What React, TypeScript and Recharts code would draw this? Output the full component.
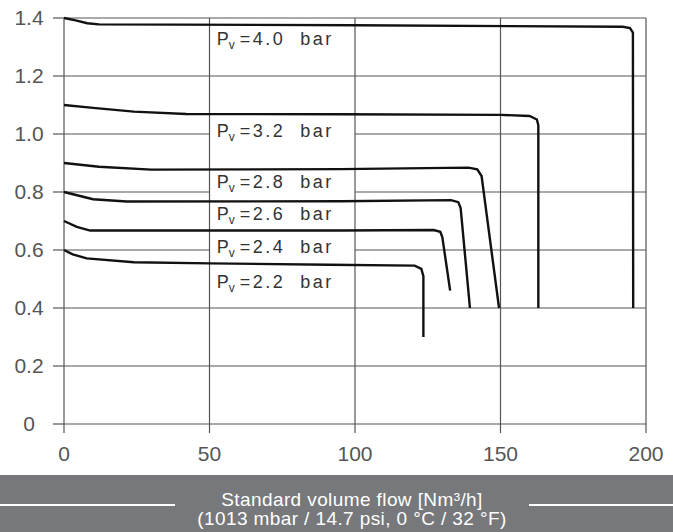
import React from 'react';
import { LineChart, Line, XAxis, YAxis, CartesianGrid, ReferenceLine, ReferenceDot } from 'recharts';

// axis ticks
const flowTicks = [0, 50, 100, 150, 200];
const pressureTicks = [0, 0.2, 0.4, 0.6, 0.8, 1.0, 1.2, 1.4];

// curves, one per inlet pressure Pv
const pv40 = [
  { x: 0, y: 1.4 }, { x: 4, y: 1.392 }, { x: 8, y: 1.382 }, { x: 12, y: 1.378 },
  { x: 100, y: 1.375 }, { x: 192, y: 1.37 }, { x: 194.5, y: 1.365 }, { x: 195.5, y: 1.35 },
  { x: 195.6, y: 0.4 },
];
const pv32 = [
  { x: 0, y: 1.1 }, { x: 10, y: 1.09 }, { x: 24, y: 1.077 }, { x: 42, y: 1.069 },
  { x: 95, y: 1.068 }, { x: 150, y: 1.066 }, { x: 160, y: 1.062 }, { x: 162.5, y: 1.05 },
  { x: 163, y: 1.03 }, { x: 163, y: 0.4 },
];
const pv28 = [
  { x: 0, y: 0.9 }, { x: 12, y: 0.887 }, { x: 30, y: 0.877 }, { x: 95, y: 0.879 },
  { x: 139, y: 0.884 }, { x: 142, y: 0.878 }, { x: 143.5, y: 0.855 }, { x: 149.5, y: 0.4 },
];
const pv26 = [
  { x: 0, y: 0.8 }, { x: 10, y: 0.775 }, { x: 21.5, y: 0.767 }, { x: 95, y: 0.768 },
  { x: 133, y: 0.772 }, { x: 135.5, y: 0.765 }, { x: 136.3, y: 0.745 }, { x: 139.5, y: 0.4 },
];
const pv24 = [
  { x: 0, y: 0.7 }, { x: 4.4, y: 0.68 }, { x: 9, y: 0.667 }, { x: 95, y: 0.667 },
  { x: 127, y: 0.669 }, { x: 129.3, y: 0.663 }, { x: 130, y: 0.645 }, { x: 132.7, y: 0.46 },
];
const pv22 = [
  { x: 0, y: 0.6 }, { x: 3, y: 0.585 }, { x: 7.8, y: 0.571 }, { x: 24, y: 0.558 },
  { x: 50, y: 0.554 }, { x: 91, y: 0.549 }, { x: 120.5, y: 0.546 }, { x: 122.8, y: 0.535 },
  { x: 123.5, y: 0.51 }, { x: 123.5, y: 0.3 },
];

const curves = [
  { pv: '4.0', points: pv40 },
  { pv: '3.2', points: pv32 },
  { pv: '2.8', points: pv28 },
  { pv: '2.6', points: pv26 },
  { pv: '2.4', points: pv24 },
  { pv: '2.2', points: pv22 },
];

// where the Pv labels sit (data coords, text baseline)
const labelX = 52.5;
const labelY = [1.307, 0.99, 0.814, 0.704, 0.59, 0.468];

// gridlines that are broken by the label column
const fullGridY = [0, 0.2, 0.4, 1.2, 1.4];
const splitGridY = [0.6, 0.8, 1.0];

const GRID = '#555';
const TXT = '#555';
const FONT = '"Liberation Sans", Arial, sans-serif';

const YTick = (props: any) => {
  const v = props.payload.value;
  return (
    <text x={29} y={props.y} dy="0.355em" textAnchor="middle" fontSize={21} fill={TXT} fontFamily={FONT}>
      {v === 0 ? '0' : v.toFixed(1)}
    </text>
  );
};

const PvLabel = ({ cx, cy, pv }: any) => (
  <text x={cx} y={cy} fontSize={18} fill="#333" fontFamily={FONT}>
    P
    <tspan fontSize={12} dy={4}>v</tspan>
    <tspan dy={-4} dx={5} letterSpacing={2.5}>{'=' + pv + '\u00a0 bar'}</tspan>
  </text>
);

export default function App() {
  return (
    <div style={{ position: 'relative', width: 673, height: 532, background: '#fff', overflow: 'hidden' }}>
      <style>{'body{margin:0}'}</style>
      <LineChart width={673} height={475} margin={{ top: 18, right: 27, bottom: 0, left: 0 }}>
        <CartesianGrid horizontal={false} stroke={GRID} strokeWidth={1.2} />
        <XAxis
          type="number"
          dataKey="x"
          domain={[0, 200]}
          ticks={flowTicks}
          height={51}
          tickSize={9}
          tickMargin={13}
          axisLine={false}
          tickLine={{ stroke: GRID, strokeWidth: 1.2 }}
          tick={{ fontSize: 21, fill: TXT, fontFamily: FONT }}
        />
        <YAxis
          type="number"
          domain={[0, 1.4]}
          ticks={pressureTicks}
          width={64}
          tickSize={11}
          axisLine={false}
          tickLine={{ stroke: GRID, strokeWidth: 1.2 }}
          tick={<YTick />}
        />
        {fullGridY.map((y) => (
          <ReferenceLine key={'g' + y} y={y} stroke={GRID} strokeWidth={1.2} />
        ))}
        {splitGridY.map((y) => (
          <ReferenceLine key={'a' + y} segment={[{ x: 0, y }, { x: 50, y }]} stroke={GRID} strokeWidth={1.2} />
        ))}
        {splitGridY.map((y) => (
          <ReferenceLine key={'b' + y} segment={[{ x: 100, y }, { x: 200, y }]} stroke={GRID} strokeWidth={1.2} />
        ))}
        {curves.map((c) => (
          <Line
            key={c.pv}
            data={c.points}
            dataKey="y"
            type="linear"
            stroke="#111"
            strokeWidth={2.4}
            dot={false}
            activeDot={false}
            isAnimationActive={false}
          />
        ))}
        {curves.map((c, i) => (
          <ReferenceDot
            key={'l' + c.pv}
            x={labelX}
            y={labelY[i]}
            r={0}
            ifOverflow="visible"
            shape={(p: any) => <PvLabel cx={p.cx} cy={p.cy} pv={c.pv} />}
          />
        ))}
      </LineChart>
      <div style={{ position: 'absolute', left: 0, top: 475, width: 673, height: 57, background: '#77787b' }}>
        <div style={{ position: 'absolute', left: 0, top: 29, width: 175, height: 2, background: '#fff' }} />
        <div style={{ position: 'absolute', left: 529, top: 29, width: 144, height: 2, background: '#fff' }} />
        <div
          style={{
            position: 'absolute',
            left: 352 - 200,
            width: 400,
            top: 15,
            textAlign: 'center',
            color: '#fff',
            fontFamily: '"Liberation Sans", Arial, sans-serif',
            fontSize: 19,
            lineHeight: '19px',
            letterSpacing: 0.4,
          }}
        >
          <div>Standard volume flow [Nm³/h]</div>
          <div>(1013 mbar / 14.7 psi, 0 °C / 32 °F)</div>
        </div>
      </div>
    </div>
  );
}
